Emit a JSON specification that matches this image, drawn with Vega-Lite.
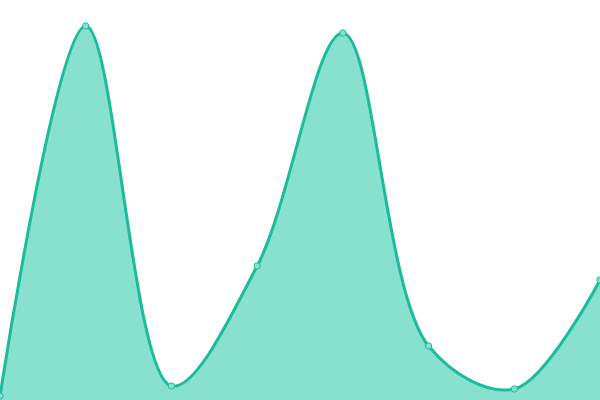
{
  "$schema": "https://vega.github.io/schema/vega-lite/v6.json",
  "autosize": {"type": "fit", "contains": "padding"},
  "width": 600,
  "height": 400,
  "padding": 0,
  "background": "white",
  "config": {"view": {"stroke": null}},
  "data": {"values": [
    {"i": 0, "v": 4},
    {"i": 1, "v": 374},
    {"i": 2, "v": 14},
    {"i": 3, "v": 134},
    {"i": 4, "v": 367},
    {"i": 5, "v": 54},
    {"i": 6, "v": 11},
    {"i": 7, "v": 120}
  ]},
  "encoding": {
    "x": {"field": "i", "type": "quantitative", "scale": {"domain": [0, 7], "nice": false, "zero": false}, "axis": null},
    "y": {"field": "v", "type": "quantitative", "scale": {"domain": [0, 400], "nice": false}, "axis": null}
  },
  "layer": [
    {"mark": {"type": "area", "interpolate": "catmull-rom", "fill": "#88e0cf", "opacity": 1, "fillOpacity": 1, "line": {"color": "#1abc9c", "strokeWidth": 3, "opacity": 1}, "clip": true}},
    {"mark": {"type": "point", "filled": true, "fill": "#88e0cf", "stroke": "#1abc9c", "strokeWidth": 1, "size": 40, "opacity": 1, "clip": true}}
  ]
}
